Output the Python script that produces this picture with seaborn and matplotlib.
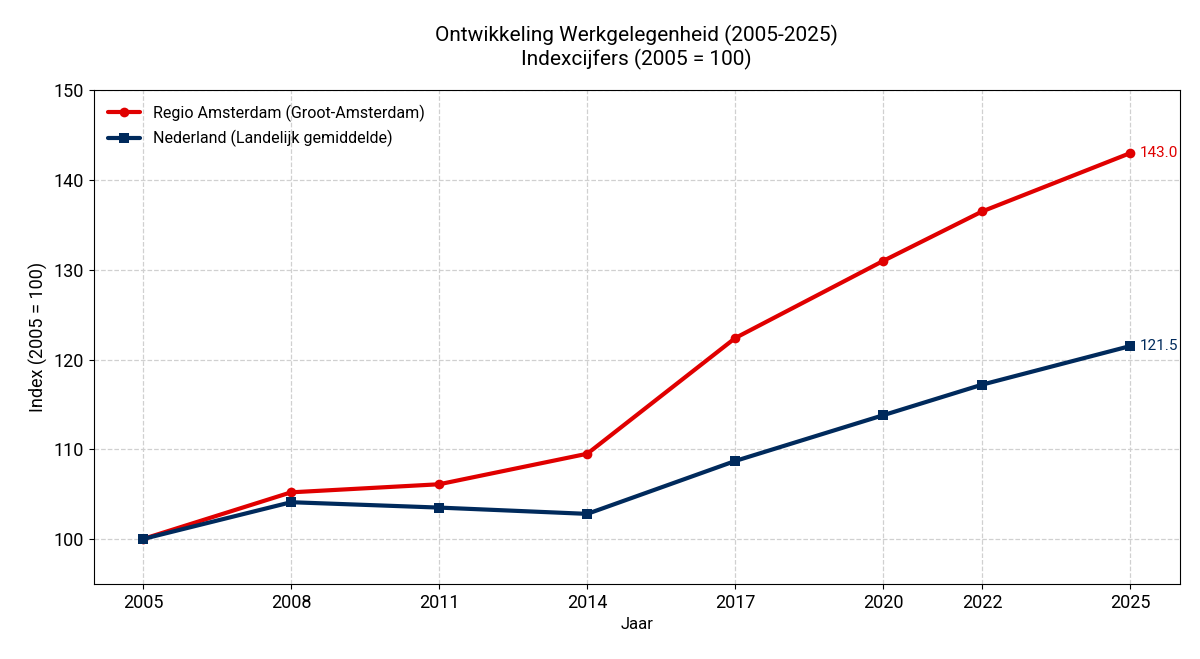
import matplotlib
matplotlib.use("Agg")
import matplotlib.pyplot as plt
import seaborn as sns
import pandas as pd

years = [2005, 2008, 2011, 2014, 2017, 2020, 2022, 2025]
amsterdam = [100, 105.2, 106.1, 109.5, 122.4, 131.0, 136.5, 143.0]
nederland = [100, 104.1, 103.5, 102.8, 108.7, 113.8, 117.2, 121.5]

sns.set_style("ticks")
plt.rcParams["font.family"] = ["Roboto", "DejaVu Sans"]
plt.rcParams["text.color"] = "black"
plt.rcParams["axes.labelcolor"] = "black"
plt.rcParams["xtick.color"] = "black"
plt.rcParams["ytick.color"] = "black"
plt.rcParams["axes.edgecolor"] = "black"

red = "#e00000"
navy = "#002a5c"

df = pd.DataFrame({"Jaar": years, "A": amsterdam, "N": nederland})

fig, ax = plt.subplots(figsize=(12, 6.59), dpi=100)
sns.lineplot(data=df, x="Jaar", y="A", ax=ax, color=red, lw=3, marker="o",
             markersize=7, markeredgewidth=0, label="Regio Amsterdam (Groot-Amsterdam)")
sns.lineplot(data=df, x="Jaar", y="N", ax=ax, color=navy, lw=3, marker="s",
             markersize=7, markeredgewidth=0, label="Nederland (Landelijk gemiddelde)")

ax.text(years[-1] + 0.2, amsterdam[-1], f"{amsterdam[-1]:.1f}", color=red, va="center", fontsize=11)
ax.text(years[-1] + 0.2, nederland[-1], f"{nederland[-1]:.1f}", color=navy, va="center", fontsize=11)

ax.set_xlim(2004, 2026)
ax.set_ylim(95, 150)
ax.set_xticks(years)
ax.set_yticks(range(100, 151, 10))
ax.tick_params(labelsize=13)
ax.grid(True, linestyle="--", color="#d0d0d0", lw=0.9)
ax.set_xlabel("Jaar", fontsize=12)
ax.set_ylabel("Index (2005 = 100)", fontsize=13)
ax.set_title("Ontwikkeling Werkgelegenheid (2005-2025)\nIndexcijfers (2005 = 100)", fontsize=15, pad=18)
ax.legend(loc="upper left", frameon=False, fontsize=11.5)

plt.subplots_adjust(left=0.078, right=0.983, top=0.863, bottom=0.114)
plt.savefig("out.png", dpi=100)
